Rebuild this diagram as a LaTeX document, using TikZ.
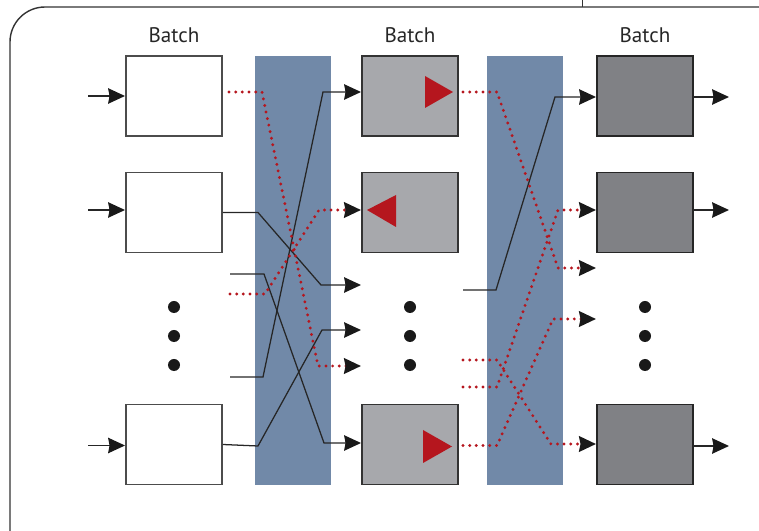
\documentclass[tikz,border=0pt]{standalone}
\usepackage{fontspec}
\setmainfont{PT Sans}
\usetikzlibrary{arrows.meta}

\definecolor{bandblue}{RGB}{113,137,168}
\definecolor{boxlight}{RGB}{167,168,172}
\definecolor{boxdark}{RGB}{128,129,133}
\definecolor{tokred}{RGB}{181,22,30}

\tikzset{
  batch/.style={draw=black!70, line width=1.4pt, minimum width=2.4cm, minimum height=2cm, inner sep=0pt},
  inbox/.style={batch, fill=white},
  midbox/.style={batch, draw=black!80, fill=boxlight},
  outbox/.style={batch, draw=black!85, fill=boxdark},
  band/.style={fill=bandblue},
  link/.style={line width=0.9pt, draw=black!85, -{Stealth[length=12pt, width=11pt, inset=1pt, black!90]}},
  redlink/.style={link, draw=tokred, line width=2.3pt, line cap=round, dash pattern=on 0pt off 4.75pt},
  dot/.style={circle, fill=black!90, minimum size=0.3cm, inner sep=0pt},
  title/.style={font=\fontsize{15}{18}\selectfont, text=black!85}
}

\begin{document}
\begin{tikzpicture}[x=0.025cm, y=-0.025cm]

    \useasboundingbox (0,0) rectangle (759,531);

    % frame, cut off at the right and at the bottom
    \draw[line width=1pt, black!80] (10,531) -- (10,42) arc[start angle=180, end angle=270, radius=35] -- (759,7);
    \draw[line width=0.6pt, black!80] (582,0) -- (582,7);

    % shuffle bands
    \fill[band] (255,56) rectangle (331,485);
    \fill[band] (487,56) rectangle (563,485);

    % the three batches
    \node[title] (h1) at (174,35) {Batch};
    \node[title] (h2) at (410,35) {Batch};
    \node[title] (h3) at (645,35) {Batch};

    \node[inbox] (b11) at (174,96) {};
    \node[inbox] (b12) at (174,212.5) {};
    \node[inbox] (b13) at (174,444.5) {};

    \node[midbox] (b21) at (410,96) {};
    \node[midbox] (b22) at (410,212.5) {};
    \node[midbox] (b23) at (410,444.5) {};

    \node[outbox] (b31) at (645,96) {};
    \node[outbox] (b32) at (645,212.5) {};
    \node[outbox] (b33) at (645,444.5) {};

    \foreach \x/\c in {174/1, 410/2, 645/3}
    \foreach \y/\r in {307/1, 336/2, 365/3}
        \node[dot] (d\c\r) at (\x,\y) {};

    % tokens
    \fill[tokred] (425,76) -- (453,92) -- (425,108) -- cycle;
    \fill[tokred] (396,195) -- (367,210) -- (396,227) -- cycle;
    \fill[tokred] (423,430) -- (452,446.5) -- (423,463) -- cycle;

    % free ends
    \coordinate (i1) at (88,96);
    \coordinate (i2) at (88,210);
    \coordinate (i3) at (88,445.5);
    \coordinate (s1) at (230,274);
    \coordinate (s2) at (230,377);
    \coordinate (s3) at (463,290);
    \coordinate (r1) at (229,92);
    \coordinate (r2) at (230,294);
    \coordinate (r3) at (463,92);
    \coordinate (r4) at (463,360);
    \coordinate (r5) at (463,387);
    \coordinate (r6) at (463,445.5);
    \coordinate (t1) at (361,92);
    \coordinate (t2) at (361,210);
    \coordinate (t3) at (361,285);
    \coordinate (t4) at (361,330);
    \coordinate (t5) at (361,366);
    \coordinate (t6) at (361,443);
    \coordinate (u1) at (596,97);
    \coordinate (u2) at (596,210);
    \coordinate (u3) at (596,268);
    \coordinate (u4) at (596,319);
    \coordinate (u5) at (596,444);

    % inputs and outputs
    \draw[link] (i1) -- (b11.west |- i1);
    \draw[link] (i2) -- (b12.west |- i2);
    \draw[link] (i3) -- (b13.west |- i3);
    \foreach \n/\y in {1/97, 2/210, 3/446}
        \draw[link] (b3\n.east |- 0,\y) -- ++(35,0);

    % first shuffle
    \draw[link] (b12.east) -- (258,212.5) -- (321,285) -- (t3);
    \draw[link] (s1) -- (264,274) -- (324,443) -- (t6);
    \draw[link] (s2) -- (263,377) -- (323,92) -- (t1);
    \draw[link] (b13.east) -- (258,446) -- (322,330) -- (t4);
    \draw[redlink] (r1) -- (262,92) -- (318,366) -- (t5);
    \draw[redlink] (r2) -- (265,294) -- (319,210) -- (t2);

    % second shuffle
    \draw[link] (s3) -- (496,290) -- (555,97) -- (u1);
    \draw[redlink] (r3) -- (497,92) -- (558,268) -- (u3);
    \draw[redlink] (r4) -- (497,360) -- (551,444) -- (u5);
    \draw[redlink] (r5) -- (497,387) -- (558,210) -- (u2);
    \draw[redlink] (r6) -- (497,445.5) -- (553,319) -- (u4);

\end{tikzpicture}
\end{document}
